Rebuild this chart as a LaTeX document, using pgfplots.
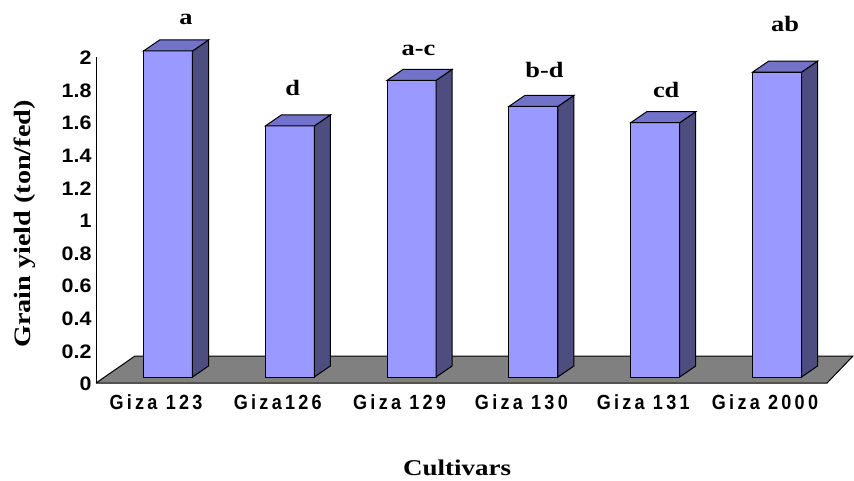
\documentclass[border=0pt]{standalone}
\usepackage{fontspec}
\setmainfont{Liberation Serif}
\newfontfamily\lblfont[FakeStretch=1.2]{Liberation Serif}
\newfontfamily\xtickfont[FakeStretch=0.88,LetterSpace=16]{Liberation Sans}
\newfontfamily\ytickfont[FakeStretch=1.1]{Liberation Sans}
\usepackage{pgfplots}
\usepackage{pgfplotstable}
\pgfplotsset{compat=1.18}

\definecolor{frontblue}{HTML}{9999FF}
\definecolor{topblue}{HTML}{7272C8}
\definecolor{sideblue}{HTML}{4D4D80}
\definecolor{floorgray}{HTML}{808080}

% grain yield per cultivar, letter group and label offset (bp)
\pgfplotstableread{
x  y     lab  lx  ly
0  2.00  a    18  32
1  1.54  d    3   36
2  1.82  a-c  7   31
3  1.66  b-d  11  35
4  1.56  cd   11  31
5  1.87  ab   8   47
}\yielddata

% side and top faces of a bar, drawn from the bar's top-front point
\pgfdeclareplotmark{barsides}{%
  \pgfmathsetlengthmacro\barH{\barv*163bp}%
  \pgfsetstrokecolor{black}%
  \pgfsetlinewidth{1bp}%
  \pgfsetmiterjoin
  \pgfpathmoveto{\pgfpoint{24.5bp}{6bp}}%
  \pgfpathlineto{\pgfpoint{40.5bp}{17bp}}%
  \pgfpathlineto{\pgfpoint{40.5bp}{17bp-\barH}}%
  \pgfpathlineto{\pgfpoint{24.5bp}{6bp-\barH}}%
  \pgfpathclose
  \pgfsetfillcolor{sideblue}%
  \pgfusepath{fill,stroke}%
  \pgfpathmoveto{\pgfpoint{-24.5bp}{6bp}}%
  \pgfpathlineto{\pgfpoint{-8.5bp}{17bp}}%
  \pgfpathlineto{\pgfpoint{40.5bp}{17bp}}%
  \pgfpathlineto{\pgfpoint{24.5bp}{6bp}}%
  \pgfpathclose
  \pgfsetfillcolor{topblue}%
  \pgfusepath{fill,stroke}%
}

\begin{document}
\begin{tikzpicture}
\begin{axis}[
  anchor=origin,
  at={(0,0)},
  x=121.8bp, y=163bp,
  xmin=-0.591, xmax=5.7,
  ymin=0, ymax=2,
  clip=false,
  axis lines*=left,
  x axis line style={draw=none},
  y axis line style={draw=black, line width=1bp, -},
  major tick length=0pt,
  xtick={0,...,5},
  xticklabels={Giza 123,Giza126,Giza 129,Giza 130,Giza 131,Giza 2000},
  x tick label style={font=\xtickfont\bfseries\fontsize{20.5bp}{23bp}\selectfont,
    anchor=north, xshift=-12bp, yshift=-8bp},
  ytick={0,0.2,...,2.01},
  yticklabel={\ytickfont\bfseries\fontsize{19.5bp}{22bp}\selectfont\pgfmathprintnumber[assume math mode=true]{\tick}},
  y tick label style={anchor=east, xshift=-1bp, yshift=-1bp},
  xlabel={Cultivars},
  every axis x label/.style={at={(axis cs:2.373,-0.521)}, anchor=center,
    font=\lblfont\bfseries\fontsize{22.5bp}{24bp}\selectfont},
  ylabel={Grain yield (ton/fed)},
  every axis y label/.style={at={(axis cs:-1.174,0.975)}, rotate=90, anchor=center,
    font=\lblfont\bfseries\fontsize{23.5bp}{26bp}\selectfont},
]
  % floor
  \addplot[fill=floorgray, draw=black, line width=1bp]
    coordinates {(-0.591,0) (5.411,0) (5.624,0.1656) (-0.271,0.1656) (-0.591,0)};
  % front faces of the bars
  \addplot[ybar, bar width=49bp, fill=frontblue, draw=black, line width=1bp,
    yshift=6bp] table[x=x, y=y] {\yielddata};
  % side and top faces, plus letter groups
  \addplot[scatter, only marks, mark=barsides,
    scatter/@pre marker code/.code={},
    scatter/@post marker code/.code={},
    visualization depends on={rawy \as \barv},
    visualization depends on={\thisrow{lx} \as \lx},
    visualization depends on={\thisrow{ly} \as \ly},
    point meta=explicit symbolic,
    nodes near coords,
    nodes near coords style={anchor=base, xshift=\lx bp, yshift=\ly bp,
      font=\lblfont\bfseries\fontsize{22bp}{24bp}\selectfont, text=black},
  ] table[x=x, y=y, meta=lab] {\yielddata};
\end{axis}
\pgfresetboundingbox
\useasboundingbox (-168bp,-98bp) rectangle (686bp,383bp);
\end{tikzpicture}
\end{document}
